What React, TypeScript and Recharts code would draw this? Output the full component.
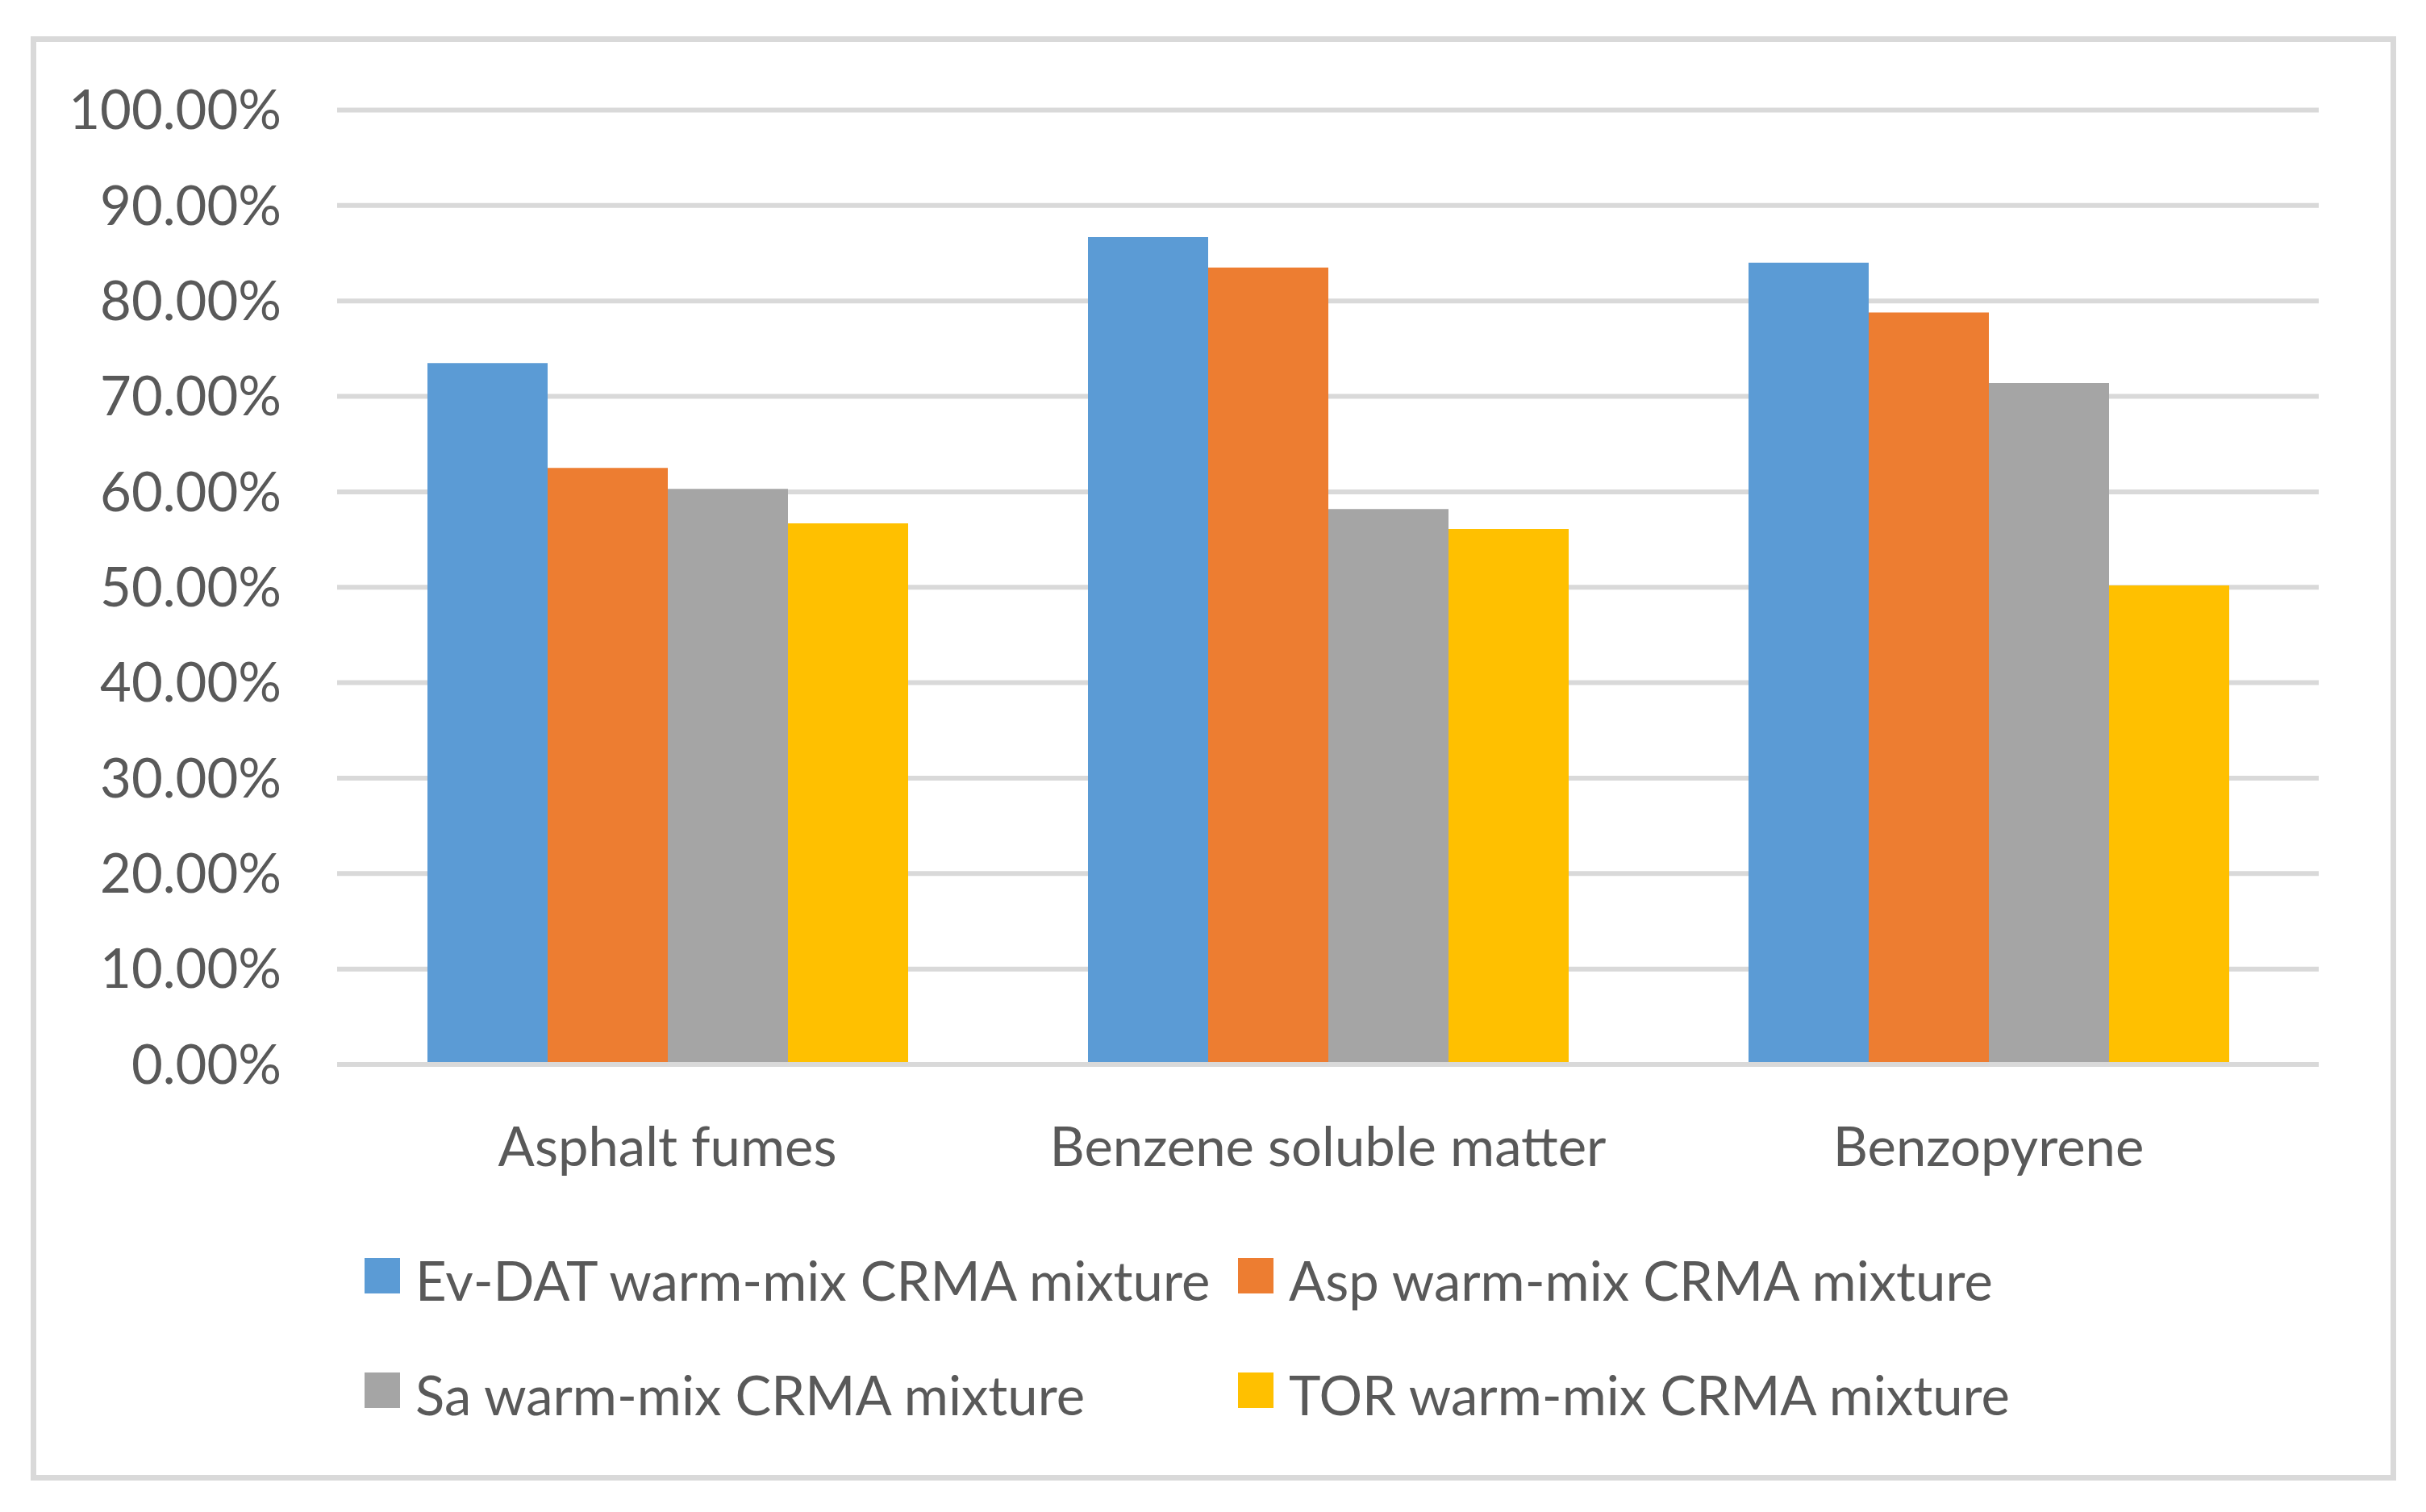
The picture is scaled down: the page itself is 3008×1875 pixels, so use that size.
import React from 'react';
import { BarChart, Bar, XAxis, YAxis, CartesianGrid, Legend } from 'recharts';

const categories = ['Asphalt fumes', 'Benzene soluble matter', 'Benzopyrene'];
const evDatValues = [73.5, 86.7, 84.0];
const aspValues = [62.5, 83.5, 78.8];
const saValues = [60.3, 58.2, 71.4];
const torValues = [56.7, 56.1, 50.2];
const yTicks = [0, 10, 20, 30, 40, 50, 60, 70, 80, 90, 100];

const seriesKeys = ['evDat', 'asp', 'sa', 'tor'];
const seriesNames = [
  'Ev-DAT warm-mix CRMA mixture',
  'Asp warm-mix CRMA mixture',
  'Sa warm-mix CRMA mixture',
  'TOR warm-mix CRMA mixture',
];
const seriesColors = ['#5b9bd5', '#ed7d31', '#a5a5a5', '#ffc000'];

const data = categories.map((c, i) => ({
  name: c,
  evDat: evDatValues[i],
  asp: aspValues[i],
  sa: saValues[i],
  tor: torValues[i],
}));

const FONT = 'Lato, "Open Sans", sans-serif';
const TEXT_COLOR = '#595959';
const GRID_COLOR = '#d9d9d9';

const legendColLeft = [452, 1535];
const legendRowTop = [54, 196];

const renderLegend = (props: any) => {
  const payload = [...(props.payload || [])].sort(
    (a: any, b: any) => seriesNames.indexOf(a.value) - seriesNames.indexOf(b.value)
  );
  return (
    <div style={{ position: 'relative', width: 3008, height: 300, fontFamily: FONT, fontSize: 67, color: TEXT_COLOR }}>
      {payload.map((entry: any, i: number) => {
        const col = i % 2;
        const row = Math.floor(i / 2);
        const left = legendColLeft[col];
        const top = legendRowTop[row];
        return (
          <React.Fragment key={i}>
            <div
              style={{
                position: 'absolute',
                left,
                top: top + 6,
                width: 44,
                height: 44,
                background: entry.color,
              }}
            />
            <div
              style={{
                position: 'absolute',
                left: left + 63,
                top,
                lineHeight: '67px',
                whiteSpace: 'nowrap',
              }}
            >
              {entry.value}
            </div>
          </React.Fragment>
        );
      })}
    </div>
  );
};

export default function App() {
  return (
    <div style={{ position: 'absolute', left: 0, top: 0, width: 3008, height: 1875, background: '#ffffff' }}>
      <div
        style={{
          position: 'absolute',
          left: 38,
          top: 45,
          width: 2933,
          height: 1791,
          border: `7px solid ${GRID_COLOR}`,
          boxSizing: 'border-box',
        }}
      />
      <div style={{ position: 'absolute', left: 0, top: 0 }}>
        <BarChart
          width={3008}
          height={1875}
          data={data}
          margin={{ top: 136.5, right: 133, bottom: 115, left: 0 }}
          barCategoryGap={112}
          barGap={0}
        >
          <CartesianGrid vertical={false} stroke={GRID_COLOR} strokeWidth={6} />
          <XAxis
            dataKey="name"
            height={140}
            tickSize={0}
            tickMargin={78}
            axisLine={{ stroke: GRID_COLOR, strokeWidth: 6 }}
            tickLine={false}
            tick={{ fill: TEXT_COLOR, fontSize: 67, fontFamily: FONT }}
            interval={0}
          />
          <YAxis
            width={418}
            domain={[0, 100]}
            ticks={yTicks}
            tickFormatter={(v: number) => `${v.toFixed(2)}%`}
            axisLine={false}
            tickLine={false}
            tickSize={0}
            tickMargin={69}
            tick={{ fill: TEXT_COLOR, fontSize: 67, fontFamily: FONT }}
            interval={0}
          />
          <Legend
            content={renderLegend}
            wrapperStyle={{ left: 0, top: 1500, width: 3008, height: 300 }}
          />
          {seriesKeys.map((k, i) => (
            <Bar key={k} dataKey={k} name={seriesNames[i]} fill={seriesColors[i]} isAnimationActive={false} />
          ))}
        </BarChart>
      </div>
    </div>
  );
}
